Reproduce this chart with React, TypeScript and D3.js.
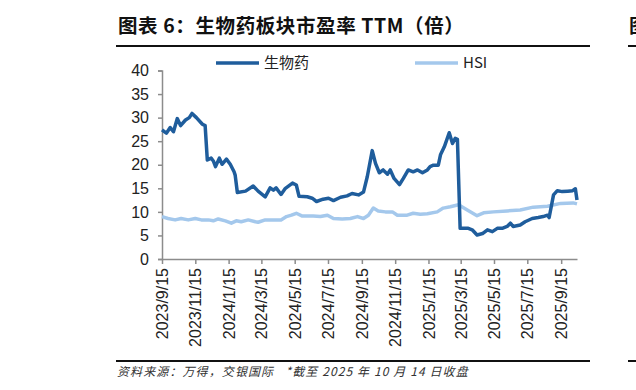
import React, { useEffect, useRef } from "react";
import * as d3 from "d3";

// 生物药 PE TTM
const bioDates = [
  "2023-09-15", "2023-09-23", "2023-09-30", "2023-10-06", "2023-10-13", "2023-10-19", "2023-10-28",
  "2023-11-04", "2023-11-09", "2023-11-17", "2023-11-28", "2023-12-03", "2023-12-07", "2023-12-14",
  "2023-12-18", "2023-12-22", "2023-12-29", "2024-01-03", "2024-01-11", "2024-01-18", "2024-01-25",
  "2024-01-27", "2024-01-31", "2024-02-15", "2024-02-29", "2024-03-09", "2024-03-22", "2024-03-31",
  "2024-04-06", "2024-04-11", "2024-04-20", "2024-04-28", "2024-05-11", "2024-05-18", "2024-05-23",
  "2024-06-07", "2024-06-16", "2024-06-24", "2024-07-06", "2024-07-16", "2024-07-25", "2024-08-07",
  "2024-08-19", "2024-08-28", "2024-09-09", "2024-09-18", "2024-09-25", "2024-10-04", "2024-10-10",
  "2024-10-17", "2024-10-24", "2024-11-01", "2024-11-06", "2024-11-13", "2024-11-23", "2024-11-30",
  "2024-12-09", "2024-12-18", "2024-12-26", "2025-01-04", "2025-01-13", "2025-01-18", "2025-01-24",
  "2025-02-02", "2025-02-06", "2025-02-13", "2025-02-22", "2025-02-28", "2025-03-05", "2025-03-09",
  "2025-03-14", "2025-03-29", "2025-04-05", "2025-04-14", "2025-04-24", "2025-05-03", "2025-05-12",
  "2025-05-21", "2025-05-30", "2025-06-08", "2025-06-14", "2025-06-19", "2025-07-02", "2025-07-11",
  "2025-07-24", "2025-08-04", "2025-08-13", "2025-08-21", "2025-08-24", "2025-09-01", "2025-09-08",
  "2025-09-17", "2025-09-27", "2025-10-06", "2025-10-11", "2025-10-14",
];
const bioValues = [
  27.4, 26.7, 27.9, 27.0, 29.8, 28.3, 29.5,
  30.0, 30.9, 30.0, 28.6, 28.3, 21.0, 21.4,
  20.8, 19.6, 21.4, 20.1, 21.2, 20.1, 18.5,
  17.8, 14.1, 14.4, 15.5, 14.4, 13.2, 15.1,
  14.6, 15.1, 13.7, 15.0, 16.1, 15.7, 13.3,
  13.2, 12.9, 12.2, 12.7, 12.9, 12.4, 13.1,
  13.4, 13.9, 13.6, 14.2, 17.5, 23.0, 20.3,
  18.3, 18.9, 18.0, 18.9, 17.1, 15.8, 17.1,
  18.9, 18.5, 18.9, 18.3, 18.9, 19.6, 19.9,
  19.9, 22.1, 23.8, 26.8, 24.5, 25.6, 25.4,
  6.5, 6.5, 6.2, 5.1, 5.4, 6.2, 5.8,
  6.5, 6.5, 6.9, 7.6, 6.9, 7.2, 7.9,
  8.6, 8.8, 9.0, 9.3, 8.8, 13.6, 14.5,
  14.3, 14.4, 14.5, 14.9, 12.5,
];

// HSI PE TTM
const hsiDates = [
  "2023-09-15", "2023-09-26", "2023-10-09", "2023-10-20", "2023-11-02", "2023-11-15", "2023-11-26",
  "2023-12-09", "2023-12-18", "2023-12-27", "2024-01-09", "2024-01-20", "2024-01-29", "2024-02-07",
  "2024-02-20", "2024-03-04", "2024-03-09", "2024-03-22", "2024-04-06", "2024-04-20", "2024-04-30",
  "2024-05-09", "2024-05-18", "2024-05-29", "2024-06-18", "2024-07-01", "2024-07-14", "2024-07-25",
  "2024-08-10", "2024-08-25", "2024-09-07", "2024-09-18", "2024-09-27", "2024-10-06", "2024-10-15",
  "2024-10-28", "2024-11-10", "2024-11-19", "2024-12-07", "2024-12-18", "2024-12-31", "2025-01-13",
  "2025-01-31", "2025-02-11", "2025-02-24", "2025-03-11", "2025-03-27", "2025-04-14", "2025-04-26",
  "2025-05-14", "2025-06-08", "2025-07-02", "2025-07-26", "2025-08-21", "2025-09-14", "2025-10-07",
  "2025-10-14",
];
const hsiValues = [
  9.0, 8.6, 8.3, 8.6, 8.3, 8.6, 8.3,
  8.3, 8.1, 8.5, 8.1, 7.6, 8.1, 7.9,
  8.3, 7.9, 7.8, 8.3, 8.3, 8.3, 9.0,
  9.3, 9.7, 9.1, 9.1, 9.0, 9.3, 8.6,
  8.5, 8.6, 9.0, 8.6, 9.3, 10.8, 10.2,
  10.0, 10.0, 9.3, 9.3, 9.7, 9.5, 9.6,
  10.0, 10.8, 11.1, 11.5, 10.4, 9.2, 9.8,
  10.0, 10.2, 10.4, 11.0, 11.2, 11.8, 11.9,
  11.7,
];

const xTickLabels = [
  "2023/9/15", "2023/11/15", "2024/1/15", "2024/3/15", "2024/5/15", "2024/7/15", "2024/9/15",
  "2024/11/15", "2025/1/15", "2025/3/15", "2025/5/15", "2025/7/15", "2025/9/15",
];
const yTicks = [0, 5, 10, 15, 20, 25, 30, 35, 40];
const seriesNames = ["生物药", "HSI"];

const W = 636;
const H = 390;

export default function App() {
  const ref = useRef<SVGSVGElement>(null);

  useEffect(() => {
    const svg = d3.select(ref.current);
    svg.selectAll("*").remove();

    const parse = d3.timeParse("%Y-%m-%d");
    const parseTick = d3.timeParse("%Y/%m/%d");

    // plot area
    const left = 162, right = 577, top = 70.5, bottom = 259;

    const x = d3
      .scaleTime()
      .domain([parse("2023-09-15")!, parse("2025-10-14")!])
      .range([left, right]);
    const y = d3.scaleLinear().domain([0, 40]).range([bottom, top]);

    svg.append("rect").attr("width", W).attr("height", H).attr("fill", "#fff");

    // title
    svg
      .append("text")
      .attr("x", 118)
      .attr("y", 33)
      .attr("font-family", "'Noto Sans CJK SC'")
      .attr("font-weight", 700)
      .attr("font-size", 19.5)
      .attr("letter-spacing", 0.6)
      .attr("fill", "#111")
      .text("图表 6：生物药板块市盈率 TTM（倍）");
    svg.append("line").attr("x1", 116).attr("x2", 590).attr("y1", 46).attr("y2", 46)
      .attr("stroke", "#111").attr("stroke-width", 2);
    // neighbouring column, cut off at the right edge as in the source page
    svg.append("text").attr("x", 629).attr("y", 33)
      .attr("font-family", "'Noto Sans CJK SC'").attr("font-weight", 700)
      .attr("font-size", 19.5).attr("fill", "#111").text("图");
    svg.append("line").attr("x1", 628).attr("x2", 636).attr("y1", 46).attr("y2", 46)
      .attr("stroke", "#111").attr("stroke-width", 2);

    // y axis
    const yAxis = svg
      .append("g")
      .attr("transform", `translate(${left},0)`)
      .call(d3.axisLeft(y).tickValues(yTicks).tickSize(4).tickPadding(9));
    yAxis.select(".domain").attr("stroke", "#8c8c8c").attr("stroke-width", 1.5);
    yAxis.selectAll(".tick line").attr("stroke", "#8c8c8c").attr("stroke-width", 1.5);
    yAxis
      .selectAll(".tick text")
      .attr("font-family", "'Liberation Sans'")
      .attr("font-size", 16)
      .attr("fill", "#222");

    // x axis
    const xAxis = svg
      .append("g")
      .attr("transform", `translate(0,${bottom})`)
      .call(
        d3
          .axisBottom(x)
          .tickValues(xTickLabels.map((d) => parseTick(d)!))
          .tickFormat((d, i) => xTickLabels[i])
          .tickSize(5)
          .tickSizeOuter(0)
      );
    xAxis.select(".domain").attr("stroke", "#8c8c8c").attr("stroke-width", 1.5);
    xAxis.selectAll(".tick line").attr("stroke", "#8c8c8c").attr("stroke-width", 1.5);
    xAxis
      .selectAll(".tick text")
      .attr("font-family", "'Liberation Sans'")
      .attr("font-size", 16)
      .attr("fill", "#222")
      .attr("text-anchor", "end")
      .attr("dy", "0.35em")
      .attr("transform", "rotate(-90)")
      .attr("x", -9)
      .attr("y", 0);

    const line = d3
      .line<[Date, number]>()
      .x((d) => x(d[0]))
      .y((d) => y(d[1]));

    const hsi: [Date, number][] = hsiDates.map((d, i) => [parse(d)!, hsiValues[i]]);
    const bio: [Date, number][] = bioDates.map((d, i) => [parse(d)!, bioValues[i]]);

    svg.append("path").datum(hsi).attr("d", line).attr("fill", "none")
      .attr("stroke", "#a4c8ec").attr("stroke-width", 3.5).attr("stroke-linejoin", "round");
    svg.append("path").datum(bio).attr("d", line).attr("fill", "none")
      .attr("stroke", "#1f5d9c").attr("stroke-width", 3.5).attr("stroke-linejoin", "round");

    // legend
    const legend = [
      { name: seriesNames[0], color: "#1f5d9c", x: 216 },
      { name: seriesNames[1], color: "#a4c8ec", x: 415 },
    ];
    legend.forEach((l) => {
      svg.append("line").attr("x1", l.x).attr("x2", l.x + 43).attr("y1", 63).attr("y2", 63)
        .attr("stroke", l.color).attr("stroke-width", 3.5);
      svg.append("text").attr("x", l.x + 48).attr("y", 68)
        .attr("font-family", "'Noto Sans CJK SC', 'Liberation Sans'")
        .attr("font-size", 15).attr("fill", "#222").text(l.name);
    });

    // footer
    svg.append("line").attr("x1", 116).attr("x2", 590).attr("y1", 361).attr("y2", 361)
      .attr("stroke", "#111").attr("stroke-width", 2);
    svg.append("line").attr("x1", 628).attr("x2", 636).attr("y1", 361).attr("y2", 361)
      .attr("stroke", "#111").attr("stroke-width", 2);
    svg.append("text").attr("x", 117).attr("y", 376)
      .attr("font-family", "'Noto Sans CJK SC'").attr("font-size", 12)
      .attr("letter-spacing", 1.1)
      .style("white-space", "pre")
      .attr("font-style", "italic").attr("fill", "#333")
      .text("资料来源：万得，交银国际   *截至 2025 年 10 月 14 日收盘");
  }, []);

  return (
    <svg
      ref={ref}
      width={W}
      height={H}
      style={{ position: "absolute", left: 0, top: 0, display: "block" }}
    />
  );
}
